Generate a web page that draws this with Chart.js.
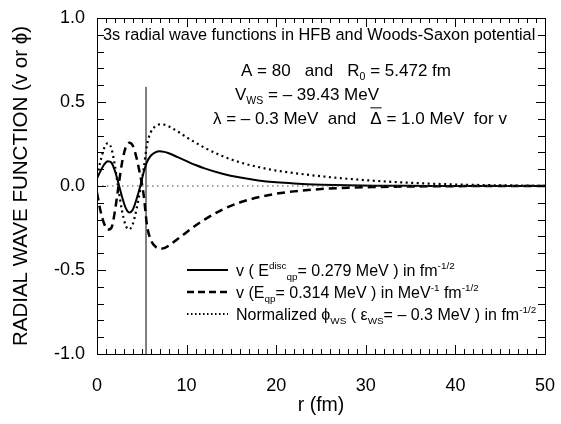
<!DOCTYPE html>
<html>
<head>
<meta charset="utf-8">
<script src="https://cdn.jsdelivr.net/npm/chart.js@4.4.1/dist/chart.umd.min.js"></script>
<style>
  html, body { margin: 0; padding: 0; background: #fff; }
  #wrap { width: 561px; height: 424px; }
</style>
</head>
<body>
<div id="wrap"><canvas id="chart" width="561" height="424"></canvas></div>
<script>
// radius grid (fm) shared by all curves
const radius = [0, 0.4, 0.8, 1.2, 1.6, 2.0, 2.4, 2.8, 3.2, 3.6, 4.0, 4.4, 4.8, 5.2, 5.6, 6.0, 6.5, 7, 7.5, 8, 9, 10, 11, 12, 14, 16, 18, 20, 22, 25, 28, 31, 35, 40, 45, 50];

// v (E^disc_qp = 0.279 MeV), solid
const vDisc = [0.045, 0.09, 0.128, 0.148, 0.14, 0.09, 0.015, -0.065, -0.13, -0.158, -0.14, -0.08, -0.008, 0.08, 0.145, 0.18, 0.2, 0.207, 0.203, 0.195, 0.172, 0.148, 0.125, 0.105, 0.073, 0.05, 0.033, 0.022, 0.015, 0.008, 0.004, 0.002, 0.001, 0, 0, 0];

// v (E_qp = 0.314 MeV), dashed
const vQp = [-0.04, -0.15, -0.225, -0.26, -0.25, -0.15, 0.0, 0.14, 0.23, 0.258, 0.24, 0.17, 0.07, -0.05, -0.24, -0.32, -0.36, -0.373, -0.37, -0.355, -0.315, -0.275, -0.235, -0.2, -0.14, -0.097, -0.067, -0.046, -0.032, -0.018, -0.01, -0.006, -0.003, -0.001, 0, 0];

// normalized phi_WS, dotted
const phiWs = [0.06, 0.15, 0.225, 0.255, 0.225, 0.12, -0.02, -0.15, -0.235, -0.258, -0.225, -0.14, -0.03, 0.1, 0.25, 0.32, 0.355, 0.367, 0.365, 0.355, 0.325, 0.29, 0.258, 0.228, 0.178, 0.14, 0.113, 0.092, 0.077, 0.058, 0.043, 0.031, 0.019, 0.009, 0.004, 0.001];

const r0 = 5.472;          // nuclear radius marker
const r0LineTop = 0.59;    // top of the marker line
const xRange = [0, 50];
const yRange = [-1, 1];

const FONT = "'Liberation Sans', Arial, Helvetica, sans-serif";

const toPoints = (ys) => radius.map((r, i) => ({ x: r, y: ys[i] }));

// draw text made of normal / sup / sub pieces
function drawRich(ctx, x, y, parts, size) {
  ctx.textBaseline = "alphabetic";
  ctx.textAlign = "left";
  for (const [txt, mode, opt] of parts) {
    let s = size, dy = 0;
    if (mode === "sup") { s = size * 0.62; dy = -size * 0.42; }
    if (mode === "sub") { s = size * 0.62; dy = size * 0.22; }
    ctx.font = s + "px " + FONT;
    ctx.fillText(txt, x, y + dy);
    const w = ctx.measureText(txt).width;
    if (opt === "bar") {
      ctx.save();
      ctx.lineWidth = 1;
      ctx.beginPath();
      ctx.moveTo(x, y - size * 0.95);
      ctx.lineTo(x + w, y - size * 0.95);
      ctx.stroke();
      ctx.restore();
    }
    x += w;
  }
}

const framePlugin = {
  id: "frame",
  afterDraw(chart) {
    const { ctx, chartArea: a, scales } = chart;
    const sx = scales.x, sy = scales.y;
    ctx.save();
    ctx.strokeStyle = "#000";
    ctx.fillStyle = "#000";
    ctx.lineWidth = 1;
    ctx.strokeRect(a.left + 0.5, a.top + 0.5, a.right - a.left, a.bottom - a.top);

    // inward ticks, all four sides
    ctx.beginPath();
    for (let v = xRange[0]; v <= xRange[1]; v++) {
      const px = Math.round(sx.getPixelForValue(v)) + 0.5;
      const len = v % 10 === 0 ? 9 : 5;
      ctx.moveTo(px, a.bottom); ctx.lineTo(px, a.bottom - len);
      ctx.moveTo(px, a.top); ctx.lineTo(px, a.top + len);
    }
    for (let k = -10; k <= 10; k++) {
      const v = k / 10;
      const py = Math.round(sy.getPixelForValue(v)) + 0.5;
      const len = k % 5 === 0 ? 9 : 7;
      ctx.moveTo(a.left, py); ctx.lineTo(a.left + len, py);
      ctx.moveTo(a.right, py); ctx.lineTo(a.right - len, py);
    }
    ctx.stroke();

    // axis titles
    ctx.textAlign = "center";
    ctx.textBaseline = "middle";
    ctx.font = "19.5px " + FONT;
    ctx.fillText("r (fm)", (a.left + a.right) / 2, 406);
    ctx.save();
    ctx.font = "20.5px " + FONT;
    ctx.translate(21, (a.top + a.bottom) / 2);
    ctx.rotate(-Math.PI / 2);
    ctx.fillText("RADIAL WAVE FUNCTION (v or \u03d5)", 0, 0);
    ctx.restore();

    // annotations
    drawRich(ctx, 103, 40, [["3s radial wave functions in HFB and Woods-Saxon potential"]], 16.3);
    drawRich(ctx, 241, 76, [["A = 80   and   R"], ["0", "sub"], [" = 5.472 fm"]], 17);
    drawRich(ctx, 235, 100, [["V"], ["WS", "sub"], [" = \u2013 39.43 MeV"]], 17);
    drawRich(ctx, 213, 124, [["\u03bb = \u2013 0.3 MeV  and   "], ["\u0394", null, "bar"], [" = 1.0 MeV  for v"]], 17);

    // legend
    const legend = [
      { y: 270, dash: [], w: 2, parts: [["v ( E"], ["disc", "sup"], ["qp", "sub"], ["= 0.279 MeV ) in fm"], ["-1/2", "sup"]] },
      { y: 292, dash: [7, 4], w: 2.5, parts: [["v (E"], ["qp", "sub"], ["= 0.314 MeV ) in MeV"], ["-1", "sup"], [" fm"], ["-1/2", "sup"]] },
      { y: 314, dash: [1.5, 2.5], w: 2, parts: [["Normalized "], ["\u03d5", null], ["WS", "sub"], [" ( \u03b5"], ["WS", "sub"], ["= \u2013 0.3 MeV ) in fm"], ["-1/2", "sup"]] },
    ];
    for (const it of legend) {
      ctx.save();
      ctx.lineWidth = it.w;
      ctx.setLineDash(it.dash);
      ctx.beginPath();
      ctx.moveTo(187, it.y);
      ctx.lineTo(228, it.y);
      ctx.stroke();
      ctx.restore();
      drawRich(ctx, 236, it.y + 6, it.parts, 16);
    }
    ctx.restore();
  },
};

new Chart(document.getElementById("chart"), {
  type: "line",
  data: {
    datasets: [
      {
        label: "zero",
        data: [{ x: xRange[0], y: 0 }, { x: xRange[1], y: 0 }],
        borderColor: "#444",
        borderWidth: 1,
        borderDash: [1.5, 3.5],
        pointRadius: 0,
      },
      {
        label: "R0",
        data: [{ x: r0, y: yRange[0] }, { x: r0, y: r0LineTop }],
        borderColor: "#000",
        borderWidth: 1,
        pointRadius: 0,
      },
      {
        label: "v disc",
        data: toPoints(vDisc),
        borderColor: "#000",
        borderWidth: 2,
        pointRadius: 0,
        cubicInterpolationMode: "monotone",
      },
      {
        label: "v qp",
        data: toPoints(vQp),
        borderColor: "#000",
        borderWidth: 2.5,
        borderDash: [8, 5],
        pointRadius: 0,
        cubicInterpolationMode: "monotone",
      },
      {
        label: "phi ws",
        data: toPoints(phiWs),
        borderColor: "#000",
        borderWidth: 2.2,
        borderDash: [2, 3.5],
        pointRadius: 0,
        cubicInterpolationMode: "monotone",
      },
    ],
  },
  options: {
    responsive: false,
    animation: false,
    layout: { padding: { top: 18, right: 16, left: 0, bottom: 0 } },
    plugins: { legend: { display: false }, tooltip: { enabled: false } },
    scales: {
      x: {
        type: "linear",
        min: xRange[0],
        max: xRange[1],
        grid: { display: false, drawTicks: false },
        border: { display: false },
        ticks: { stepSize: 10, color: "#000", padding: 21, font: { family: FONT, size: 18 } },
        afterFit: (s) => { s.height = 70; s.paddingLeft = 0; s.paddingRight = 0; },
      },
      y: {
        min: yRange[0],
        max: yRange[1],
        grid: { display: false, drawTicks: false },
        border: { display: false },
        ticks: {
          stepSize: 0.5,
          color: "#000",
          padding: 12,
          font: { family: FONT, size: 18 },
          callback: (v) => v.toFixed(1),
        },
        afterFit: (s) => { s.width = 97; s.paddingTop = 0; s.paddingBottom = 0; },
      },
    },
  },
  plugins: [framePlugin],
});
</script>
</body>
</html>
